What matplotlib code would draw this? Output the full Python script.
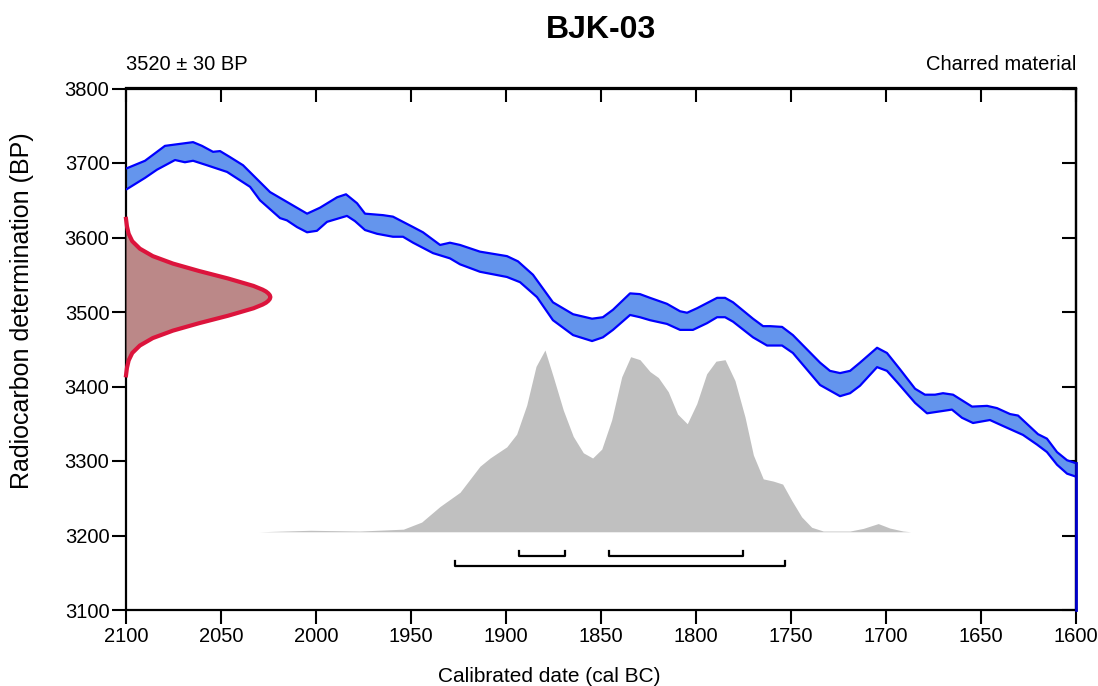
import numpy as np
import matplotlib
matplotlib.use("Agg")
import matplotlib.pyplot as plt

plt.rcParams['font.family'] = ['Liberation Sans', 'DejaVu Sans']

# calibration curve band (cal BC, BP)
upper_year = [2099.5, 2090, 2079.5, 2064.7, 2060, 2054.2, 2050.5, 2045.3, 2038.4, 2024.2,
              2004.7, 1997.9, 1988.9, 1984.2, 1978.4, 1974.2, 1964.7, 1959.5, 1948.9, 1943.7,
              1934.7, 1929.5, 1924.2, 1913.7, 1899.5, 1893.7, 1885.8, 1875.3, 1864.7, 1854.7,
              1849, 1843.7, 1834.7, 1829.5, 1824.2, 1815.3, 1808.4, 1804.7, 1799.5, 1788.9,
              1784.7, 1780.5, 1770, 1764.7, 1761, 1754.7, 1749, 1734.7, 1729.5, 1724.2,
              1718.9, 1713.7, 1704.7, 1699.5, 1692.6, 1684.7, 1679.5, 1674.2, 1670, 1664.7,
              1654.7, 1646.8, 1641.6, 1634.7, 1630.5, 1620, 1615.3, 1610, 1604.7, 1600]
upper_bp = [3693, 3703, 3723, 3728, 3723, 3715, 3716, 3708, 3697, 3661,
            3632, 3640, 3654, 3658, 3646, 3632, 3630, 3628, 3614, 3607,
            3590, 3593, 3590, 3581, 3575, 3568, 3550, 3513, 3497, 3491,
            3493, 3503, 3525, 3524, 3519, 3511, 3501, 3499, 3505, 3519,
            3519, 3513, 3491, 3481, 3481, 3480, 3469, 3432, 3421, 3418,
            3421, 3432, 3452, 3445, 3423, 3397, 3389, 3389, 3391, 3389,
            3373, 3374, 3371, 3363, 3361, 3336, 3330, 3312, 3301, 3297]
lower_year = [2099.5, 2090, 2083.7, 2074.2, 2069, 2064.7, 2057.4, 2046.8, 2034.7, 2029.5,
              2018.9, 2015.3, 2010, 2004.7, 1999.5, 1994.2, 1983.7, 1979.5, 1974.2, 1967.9,
              1959.5, 1954.2, 1948.9, 1938.4, 1929.5, 1924.2, 1913.7, 1899.5, 1892.6, 1883.7,
              1875.3, 1864.7, 1854.7, 1849, 1843.7, 1834.7, 1829.5, 1824.2, 1815.3, 1808.4,
              1801.6, 1794.2, 1788.9, 1784.7, 1780.5, 1770, 1762.6, 1754.7, 1749, 1734.7,
              1724.2, 1718.9, 1713.7, 1704.7, 1699.5, 1694.2, 1684.7, 1678.4, 1665.3, 1660,
              1654.2, 1645.3, 1638.4, 1627.9, 1620.5, 1615.3, 1610, 1604.7, 1600]
lower_bp = [3665, 3680, 3691, 3704, 3701, 3703, 3697, 3688, 3668, 3650,
            3626, 3623, 3614, 3607, 3609, 3621, 3629, 3622, 3610, 3605,
            3601, 3601, 3593, 3579, 3572, 3564, 3554, 3547, 3540, 3520,
            3489, 3469, 3461, 3466, 3476, 3496, 3493, 3489, 3484, 3476,
            3476, 3485, 3493, 3493, 3487, 3466, 3455, 3455, 3445, 3402,
            3387, 3391, 3401, 3426, 3421, 3406, 3378, 3364, 3369, 3358,
            3351, 3355, 3347, 3335, 3322, 3312, 3295, 3283, 3279]

# calibrated probability (height in BP units above baseline)
post_year = [2030, 2003, 1977, 1954, 1944.4, 1934.7, 1924.2, 1913.7, 1908.4, 1899.6,
             1894.4, 1889.1, 1884.2, 1879.5, 1875.1, 1869.8, 1864.6, 1859.3, 1854.4, 1849.6,
             1844.4, 1839.1, 1834.4, 1829.5, 1824.2, 1819.8, 1814.6, 1809.7, 1804.6, 1799.6,
             1794.4, 1789.5, 1784.7, 1779.5, 1774.2, 1769.8, 1764.6, 1759.3, 1754.4, 1749.6,
             1744.4, 1739.1, 1733, 1719, 1712, 1704.1, 1698, 1691, 1687]
post_h = [0, 2, 1, 3.5, 13, 34, 53, 88, 99, 114,
          131, 170, 222, 244, 208, 163, 128, 106, 99, 111,
          150, 208, 235, 231, 215, 207, 188, 158, 145, 172,
          212, 229, 231, 203, 154, 103, 71, 68, 64, 42,
          20, 6, 1, 1, 4.5, 11, 5, 1, 0]
post_base = 3205

# radiocarbon date 3520 +/- 30 BP, profile width in years
c14_bp = [3415, 3425, 3435, 3445, 3455, 3465, 3475, 3485, 3495, 3505, 3510, 3512.5, 3515,
          3517.5, 3520, 3522.5, 3525, 3527.5, 3530, 3535, 3545, 3555, 3565, 3575, 3585,
          3595, 3605, 3615, 3625]
c14_w = [0, 0.5, 1.4, 3.3, 7.3, 14.1, 24.7, 38.5, 53.7, 67.1, 71.9, 73.7, 74.9,
         75.7, 76, 75.7, 74.9, 73.7, 71.9, 67.1, 53.7, 38.5, 24.7, 14.1, 7.3,
         3.3, 1.4, 0.5, 0]

# highest posterior density ranges
range68 = [(1893, 1869), (1846, 1775)]
range95 = [(1927, 1753)]

fig = plt.figure(figsize=(10.98, 6.86), dpi=100)
ax = fig.add_axes([126 / 1098, 1 - 610 / 686, 950 / 1098, 521.5 / 686])
ax.set_xlim(2100, 1600)
ax.set_ylim(3100, 3800)

# calibrated distribution
ax.fill_between(post_year, post_base, post_base + np.array(post_h),
                color='#c0c0c0', lw=0, zorder=1)

# calibration curve
band_x = np.concatenate([upper_year, lower_year[::-1]])
band_y = np.concatenate([upper_bp, lower_bp[::-1]])
ax.fill(band_x, band_y, color='#6495ed', lw=0, zorder=2)
ax.plot(upper_year, upper_bp, color='#0000ff', lw=1.6, zorder=3)
ax.plot(lower_year, lower_bp, color='#0000ff', lw=1.6, zorder=3)
ax.plot([upper_year[-1]] * 2, [3100, upper_bp[-1]], color='#0000cc', lw=2,
        zorder=3, clip_on=False)

# radiocarbon measurement
c14_x = 2100 - np.array(c14_w)
ax.fill_betweenx(c14_bp, 2100, c14_x, color='#bb8888', lw=0, zorder=4)
ax.plot(c14_x, c14_bp, color='#dc143c', lw=3, zorder=5, clip_on=False,
        solid_joinstyle='round')

# range brackets
for (a, b) in range68:
    ax.plot([a, a, b, b], [3179, 3172, 3172, 3179], color='black', lw=1.6, zorder=5)
for (a, b) in range95:
    ax.plot([a, a, b, b], [3166, 3159, 3159, 3166], color='black', lw=1.6, zorder=5)

xticks = np.arange(2100, 1599, -50)
yticks = np.arange(3100, 3801, 100)
ax.set_xticks(xticks)
ax.set_yticks(yticks)
ax.tick_params(direction='out', length=10, width=1.5, labelsize=14.5, pad=2)
for s in ax.spines.values():
    s.set_linewidth(1.6)

top = ax.secondary_xaxis('top')
top.set_xticks(xticks)
top.tick_params(direction='in', length=10, width=1.5, labeltop=False)
top.spines['top'].set_linewidth(1.6)
right = ax.secondary_yaxis('right')
right.set_yticks(yticks)
right.tick_params(direction='in', length=10, width=1.5, labelright=False)
right.spines['right'].set_linewidth(1.6)

ax.set_xlabel('Calibrated date (cal BC)', fontsize=15)
ax.xaxis.set_label_coords((549 - 126) / 950, -0.109)
ax.set_ylabel('Radiocarbon determination (BP)', fontsize=18)
ax.yaxis.set_label_coords(-92 / 950, (610 - 311) / 521.5)
fig.text(601 / 1098, 0.956, 'BJK-03', ha='center', va='center', fontsize=23, fontweight='bold')
ax.text(0.0, 1.028, '3520 \u00b1 30 BP', transform=ax.transAxes, ha='left',
        va='bottom', fontsize=14.5)
ax.text(1.0, 1.028, 'Charred material', transform=ax.transAxes, ha='right',
        va='bottom', fontsize=14.5)

fig.savefig('out.png', dpi=100)
